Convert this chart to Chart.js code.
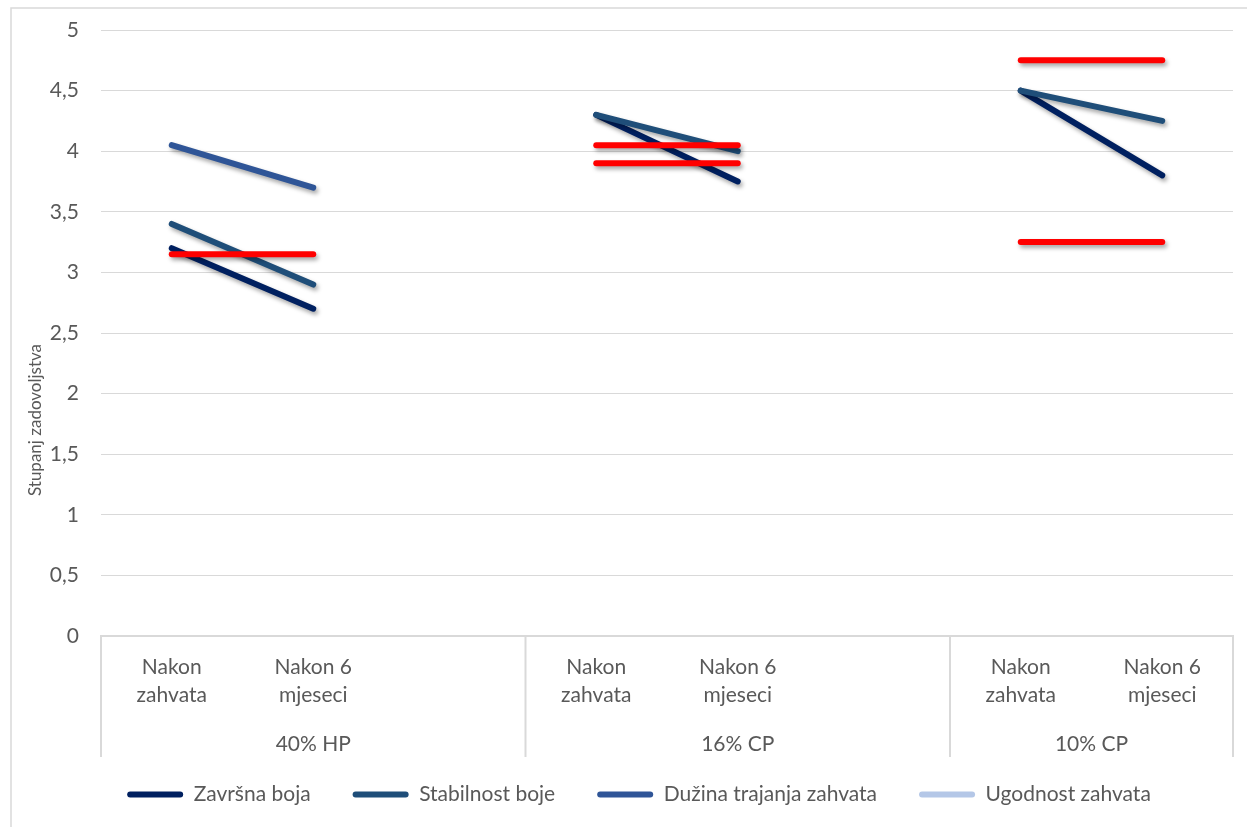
<!DOCTYPE html>
<html>
<head>
<meta charset="utf-8">
<script src="https://cdn.jsdelivr.net/npm/chart.js@4.4.0/dist/chart.umd.min.js"></script>
<style>
    html, body { margin: 0; padding: 0; background: #fff; }
    #wrap { position: relative; width: 1247px; height: 827px; }
</style>
</head>
<body>
<div id="wrap"><canvas id="satisfactionChart"></canvas></div>
<script>
// categories (blank slot between groups, like the Excel sheet)
const categories = [['Nakon', 'zahvata'], ['Nakon 6', 'mjeseci'], '', ['Nakon', 'zahvata'], ['Nakon 6', 'mjeseci'], '', ['Nakon', 'zahvata'], ['Nakon 6', 'mjeseci']];
const groupOf = ['40% HP', '40% HP', '40% HP', '16% CP', '16% CP', '16% CP', '10% CP', '10% CP'];

const zavrsnaBoja = [3.2, 2.7, null, 4.3, 3.75, null, 4.5, 3.8];
const stabilnostBoje = [3.4, 2.9, null, 4.3, 4.0, null, 4.5, 4.25];
const duzinaTrajanja = [4.05, 3.7, null, 4.05, 4.05, null, 4.75, 4.75];
const ugodnostZahvata = [3.15, 3.15, null, 3.9, 3.9, null, 3.25, 3.25];

const seriesNames = ['Završna boja', 'Stabilnost boje', 'Dužina trajanja zahvata', 'Ugodnost zahvata'];
const seriesColors = ['#002060', '#1f4e79', '#2f5597', '#b4c7e7'];
const yAxisTitle = 'Stupanj zadovoljstva';

const HIGHLIGHT = '#ff0000';
const TEXT = '#595959';
const GRID = '#d9d9d9';

Chart.defaults.font.family = 'Lato';
Chart.defaults.color = TEXT;

// Excel-like soft shadow under the lines
const lineShadow = {
    id: 'lineShadow',
    beforeDatasetsDraw(chart) {
        const c = chart.ctx;
        c.save();
        c.shadowColor = 'rgba(0,0,0,0.35)';
        c.shadowBlur = 4;
        c.shadowOffsetX = 2;
        c.shadowOffsetY = 3;
    },
    afterDatasetsDraw(chart) {
        chart.ctx.restore();
    }
};

// outer frame of the chart object
const frame = {
    id: 'frame',
    beforeDraw(chart) {
        const c = chart.ctx;
        c.save();
        c.strokeStyle = GRID;
        c.lineWidth = 1.5;
        c.strokeRect(11, 8, chart.width + 50, chart.height + 50);
        c.restore();
    }
};

// second level of the category axis + separators + rotated y title
const groupAxis = {
    id: 'groupAxis',
    afterDraw(chart) {
        const { ctx, chartArea } = chart;
        const x = chart.scales.x;
        const top = chartArea.bottom;
        const bottom = chartArea.bottom + 121;
        const step = x.getPixelForValue(1) - x.getPixelForValue(0);

        ctx.save();
        ctx.strokeStyle = GRID;
        ctx.lineWidth = 2;
        const edges = [chartArea.left];
        groupOf.forEach((g, i) => {
            if (i > 0 && g !== groupOf[i - 1]) edges.push(x.getPixelForValue(i) - step / 2);
        });
        edges.push(chartArea.right);
        edges.forEach(px => {
            ctx.beginPath();
            ctx.moveTo(px, top);
            ctx.lineTo(px, bottom);
            ctx.stroke();
        });

        ctx.fillStyle = TEXT;
        ctx.font = '21px Lato';
        ctx.textAlign = 'center';
        ctx.textBaseline = 'middle';
        const seen = [];
        groupOf.forEach(g => {
            if (seen.includes(g)) return;
            seen.push(g);
            const first = groupOf.indexOf(g);
            const last = groupOf.lastIndexOf(g);
            const cx = (x.getPixelForValue(first) + x.getPixelForValue(last)) / 2;
            ctx.fillText(g, cx, chartArea.bottom + 108);
        });

        ctx.translate(36, 420);
        ctx.rotate(-Math.PI / 2);
        ctx.font = '17px Lato';
        ctx.fillText(yAxisTitle, 0, 0);
        ctx.restore();
    }
};

const seriesData = [zavrsnaBoja, stabilnostBoje, duzinaTrajanja, ugodnostZahvata];

const ctx = document.getElementById('satisfactionChart').getContext('2d');
const satisfactionChart = new Chart(ctx, {
    type: 'line',
    data: {
        labels: categories,
        datasets: seriesData.map((values, i) => ({
            label: seriesNames[i],
            data: values,
            borderColor: seriesColors[i],
            backgroundColor: seriesColors[i],
            borderWidth: 6,
            borderCapStyle: 'round',
            pointRadius: 0,
            order: seriesData.length - i,
            // unchanged scores are marked red in the original
            segment: {
                borderColor: s => s.p0.parsed.y === s.p1.parsed.y ? HIGHLIGHT : undefined
            }
        }))
    },
    options: {
        responsive: true,
        maintainAspectRatio: false,
        animation: false,
        layout: { padding: { left: 45, right: 14, top: 30, bottom: 12 } },
        plugins: {
            tooltip: { enabled: false },
            legend: {
                position: 'bottom',
                labels: {
                    boxWidth: 56,
                    boxHeight: 6,
                    padding: 42,
                    useBorderRadius: true,
                    borderRadius: 3,
                    color: TEXT,
                    font: { size: 21 },
                    sort: (a, b) => a.datasetIndex - b.datasetIndex,
                    generateLabels: chart => chart.data.datasets.map((ds, i) => ({
                        text: ds.label,
                        fillStyle: ds.borderColor,
                        strokeStyle: ds.borderColor,
                        lineWidth: 0,
                        fontColor: TEXT,
                        hidden: false,
                        borderRadius: 3,
                        datasetIndex: i
                    }))
                }
            }
        },
        scales: {
            x: {
                offset: true,
                grid: { display: false, drawTicks: false, offset: true },
                border: { display: true, color: GRID, width: 2 },
                ticks: {
                    autoSkip: false,
                    maxRotation: 0,
                    padding: 17,
                    color: TEXT,
                    font: { size: 21, lineHeight: 1.35 }
                },
                afterFit: scale => { scale.height = 106; }
            },
            y: {
                min: 0,
                max: 5,
                grid: { color: GRID, lineWidth: 1, drawTicks: false },
                border: { display: false },
                ticks: {
                    stepSize: 0.5,
                    padding: 22,
                    color: TEXT,
                    font: { size: 21 },
                    callback: v => String(v).replace('.', ',')
                },
                afterFit: scale => {
                    scale.width = 56;
                    scale.paddingTop = 0;
                    scale.paddingBottom = 0;
                }
            }
        }
    },
    plugins: [frame, lineShadow, groupAxis]
});
</script>
</body>
</html>
